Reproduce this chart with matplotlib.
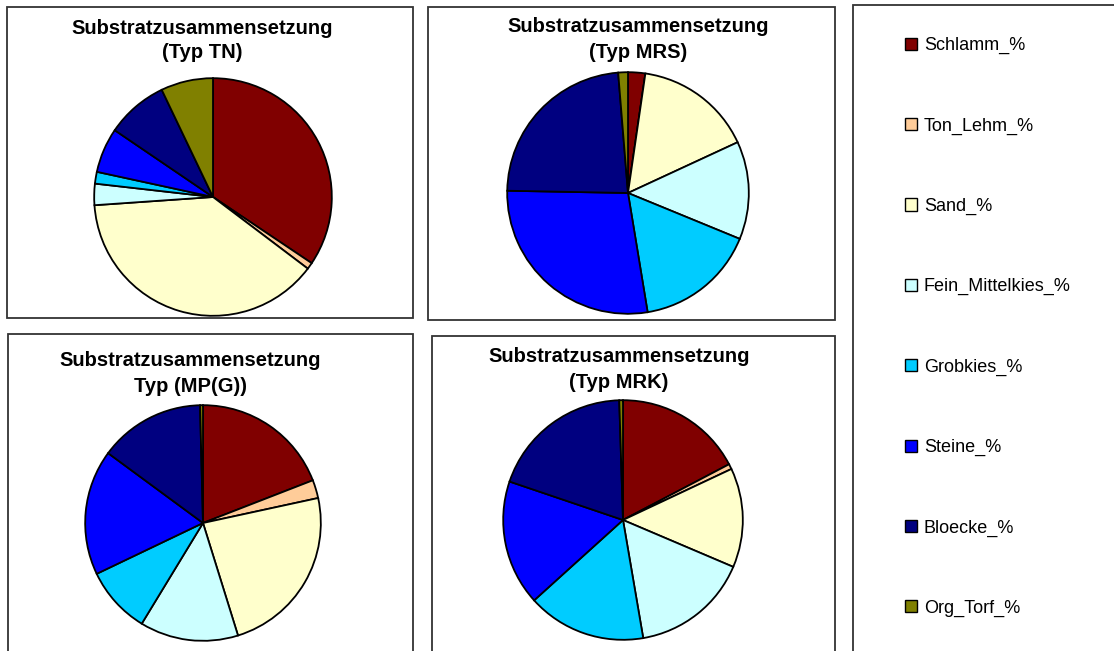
import matplotlib
matplotlib.use("Agg")
import matplotlib.pyplot as plt
from matplotlib.patches import Rectangle, Patch

plt.rcParams['font.family'] = ['Liberation Sans', 'DejaVu Sans']

W, H = 1114, 651

categories = ["Schlamm_%", "Ton_Lehm_%", "Sand_%", "Fein_Mittelkies_%",
              "Grobkies_%", "Steine_%", "Bloecke_%", "Org_Torf_%"]
colors = ["#800000", "#FFCC99", "#FFFFCC", "#CCFFFF",
          "#00CCFF", "#0000FF", "#000080", "#808000"]

typ_tn = [34.4, 0.9, 38.6, 2.9, 1.6, 6.1, 8.4, 7.1]
typ_mrs = [2.3, 0.0, 15.8, 13.1, 16.2, 27.9, 23.4, 1.3]
typ_mpg = [19.1, 2.5, 23.6, 13.5, 9.2, 17.2, 14.5, 0.4]
typ_mrk = [17.3, 0.7, 13.4, 15.9, 16.0, 16.9, 19.3, 0.5]

titles = [("Substratzusammensetzung", "(Typ TN)"),
          ("Substratzusammensetzung", "(Typ MRS)"),
          ("Substratzusammensetzung", "Typ (MP(G))"),
          ("Substratzusammensetzung", "(Typ MRK)")]

# layout in pixels: frame box, pie centre/radius, title centres
frames = [(7, 7, 413, 318), (428, 7, 835, 320),
          (8, 334, 413, 660), (432, 336, 835, 660)]
pies = [(213, 197, 120), (628, 193, 122), (203, 523, 119), (623, 520, 121)]
title_pos = [(202, 28, 53), (638, 27, 53), (190, 360, 387), (619, 357, 383)]

fig = plt.figure(figsize=(W / 100, H / 100), dpi=100)
fig.patch.set_facecolor("white")


def add_frame(x0, y0, x1, y1):
    fig.patches.append(Rectangle((x0 / W, 1 - y1 / H), (x1 - x0) / W, (y1 - y0) / H,
                                 transform=fig.transFigure, fill=False,
                                 edgecolor="#333333", linewidth=1.3))


for i, vals in enumerate([typ_tn, typ_mrs, typ_mpg, typ_mrk]):
    add_frame(*frames[i])
    cx, cy, r = pies[i]
    ax = fig.add_axes([(cx - r) / W, 1 - (cy + r) / H, 2 * r / W, 2 * r / H])
    ax.pie(vals, colors=colors, startangle=90, counterclock=False, radius=1,
           wedgeprops=dict(edgecolor="black", linewidth=1.3))
    ax.set_xlim(-1.01, 1.01)
    ax.set_ylim(-1.01, 1.01)
    ax.set_aspect("equal")
    ax.axis("off")
    tx, ty1, ty2 = title_pos[i]
    fig.text(tx / W, 1 - ty1 / H, titles[i][0], ha="center", va="center",
             fontsize=14.5, fontweight="bold")
    fig.text(tx / W, 1 - ty2 / H, titles[i][1], ha="center", va="center",
             fontsize=14.5, fontweight="bold")

# legend panel
add_frame(853, 5, 1130, 660)
handles = [Patch(facecolor=c, edgecolor="black", linewidth=1.0) for c in colors]
fig.legend(handles, categories, loc="center left",
           bbox_to_anchor=(905 / W, 1 - 327 / H), frameon=False,
           fontsize=13, borderpad=0, borderaxespad=0,
           handlelength=0.65, handleheight=0.65, handletextpad=0.4,
           labelspacing=3.5)

fig.savefig("out.png", dpi=100)
